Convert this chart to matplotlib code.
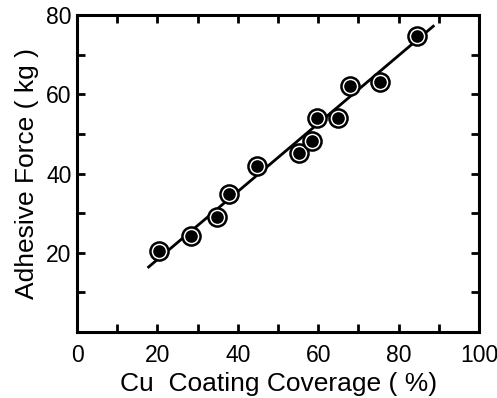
import matplotlib
matplotlib.use("Agg")
import matplotlib.pyplot as plt
from matplotlib.ticker import MultipleLocator

# data
coverage = [20.5, 28.3, 34.7, 37.8, 44.8, 55.2, 58.5, 59.8, 64.8, 67.8, 75.3, 84.5]
force = [20.5, 24.3, 29.0, 34.8, 41.8, 45.2, 48.3, 54.0, 54.0, 62.0, 63.0, 74.8]
fit_x = [17.8, 88.6]
fit_y = [16.4, 77.2]

plt.rcParams["font.family"] = ["Liberation Sans", "DejaVu Sans"]

fig = plt.figure(figsize=(4.97, 3.98), dpi=100)
ax = fig.add_axes([0.155, 0.166, 0.809, 0.796])

ax.plot(fit_x, fit_y, color="black", lw=2.0, zorder=2)
ax.scatter(coverage, force, s=170, facecolor="white", edgecolor="black",
           linewidth=1.8, zorder=3)
ax.scatter(coverage, force, s=65, color="black", zorder=4)

ax.set_xlim(0, 100)
ax.set_ylim(0, 80)
ax.xaxis.set_major_locator(MultipleLocator(20))
ax.xaxis.set_minor_locator(MultipleLocator(10))
ax.yaxis.set_major_locator(MultipleLocator(20))
ax.yaxis.set_minor_locator(MultipleLocator(10))
ax.set_yticks([20, 40, 60, 80])

ax.tick_params(which="both", direction="in", top=True, right=True,
               length=6, width=2, labelsize=16.5, pad=4)
ax.tick_params(axis="x", pad=9)
for s in ax.spines.values():
    s.set_linewidth(2.2)

ax.set_xlabel("Cu  Coating Coverage ( %)", fontsize=19, labelpad=3)
ax.set_ylabel("Adhesive Force ( kg )", fontsize=19, labelpad=5)

fig.savefig("out.png", dpi=100)
